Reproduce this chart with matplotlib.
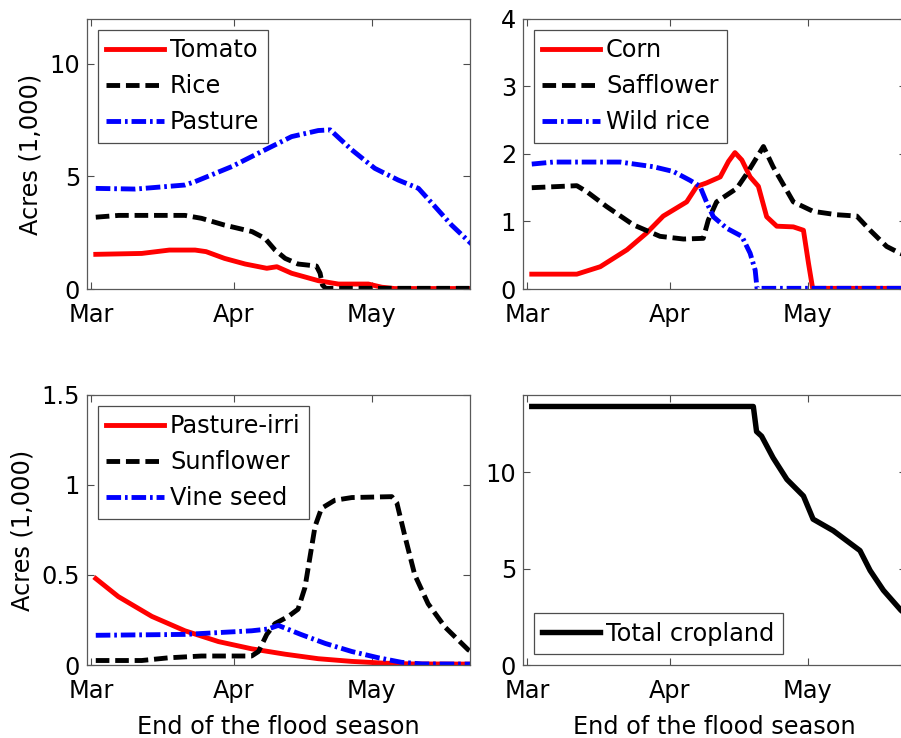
import matplotlib
matplotlib.use("Agg")
import matplotlib.pyplot as plt

# days counted from March 1 (Apr 1 = 31, May 1 = 61)
month_ticks = [0, 31, 61]
month_labels = ["Mar", "Apr", "May"]

# --- panel 1: tomato / rice / pasture ---
tomato_x = [1, 11, 17, 22.6, 25, 29, 33.5, 38.2, 40.4, 43.6, 49.4, 53.8, 60.3, 63.2, 66, 83]
tomato_y = [1.54, 1.58, 1.73, 1.73, 1.66, 1.36, 1.11, 0.92, 0.99, 0.70, 0.37, 0.22, 0.22, 0.08, 0.02, 0.02]

rice_x = [1, 6, 20.4, 24, 29, 35, 37.8, 40, 42.2, 45, 49, 49.8, 50.3, 51, 83]
rice_y = [3.19, 3.27, 3.27, 3.14, 2.84, 2.55, 2.25, 1.73, 1.36, 1.11, 1.02, 0.70, 0.18, 0.03, 0.03]

pasture_x = [1, 9.6, 20.4, 22.6, 30.6, 37.8, 43.6, 49.4, 52, 56.7, 61.7, 66.8, 71.2, 74.8, 78.4, 83]
pasture_y = [4.47, 4.44, 4.62, 4.77, 5.44, 6.18, 6.77, 7.04, 7.07, 6.18, 5.36, 4.84, 4.47, 3.66, 2.84, 1.95]

# --- panel 2: corn / safflower / wild rice ---
corn_x = [1, 10.8, 15.9, 21.7, 26, 29.6, 34.7, 36.9, 39, 42, 43.8, 45.2, 46.7, 48.5, 50.3,
          52.1, 54.3, 57.9, 60.1, 61.2, 62.1, 83]
corn_y = [0.22, 0.22, 0.33, 0.58, 0.83, 1.08, 1.29, 1.52, 1.57, 1.66, 1.89, 2.02, 1.91, 1.66, 1.52,
          1.07, 0.93, 0.92, 0.87, 0.38, 0.01, 0.01]

safflower_x = [1, 10.8, 13, 17.3, 23.1, 28.9, 34, 38.3, 39.4, 41.2, 45.6, 47.8, 51.4, 53.5,
               57.9, 62.2, 67.3, 71.7, 74.6, 78.2, 81.1, 83]
safflower_y = [1.50, 1.53, 1.44, 1.22, 0.95, 0.78, 0.74, 0.75, 1.02, 1.29, 1.49, 1.71, 2.11, 1.81,
               1.29, 1.15, 1.10, 1.08, 0.87, 0.63, 0.53, 0.48]

wildrice_x = [1, 5.7, 20.2, 27.5, 31.8, 35.4, 37.6, 39, 40.5, 43.4, 46.7, 48.5, 49.6, 50, 83]
wildrice_y = [1.85, 1.88, 1.88, 1.81, 1.74, 1.61, 1.52, 1.29, 1.07, 0.90, 0.78, 0.53, 0.28, 0.01, 0.01]

# --- panel 3: pasture-irri / sunflower / vine seed ---
irri_x = [1, 5.9, 13.2, 20.4, 27.7, 34.9, 42.2, 49.4, 56.7, 63.9, 70, 83]
irri_y = [0.48, 0.38, 0.27, 0.19, 0.13, 0.09, 0.06, 0.035, 0.02, 0.01, 0.006, 0.005]

sunflower_x = [1, 11, 16.8, 24, 34.9, 36.4, 38.2, 40, 42.9, 45, 46.5, 47.6, 48.7, 50.1, 53,
               56.7, 65.4, 66.5, 68.3, 70.4, 73.3, 77, 82, 83]
sunflower_y = [0.025, 0.025, 0.04, 0.05, 0.05, 0.075, 0.17, 0.23, 0.27, 0.31, 0.43, 0.60, 0.77,
               0.87, 0.915, 0.93, 0.935, 0.90, 0.71, 0.50, 0.34, 0.21, 0.085, 0.07]

vine_x = [1, 20.4, 27.7, 34.9, 38.5, 40.7, 45.6, 50.9, 56.7, 62.5, 67.5, 72, 83]
vine_y = [0.165, 0.17, 0.18, 0.19, 0.20, 0.22, 0.17, 0.12, 0.075, 0.04, 0.015, 0.006, 0.005]

# --- panel 4: total cropland ---
total_x = [1, 49.2, 49.9, 51, 53.5, 56.5, 60.1, 62.2, 66.6, 72.4, 74.6, 77.5, 81.3, 83]
total_y = [13.4, 13.4, 12.1, 11.86, 10.74, 9.62, 8.76, 7.56, 6.96, 5.93, 4.9, 3.87, 2.84, 2.5]

FS = 17.3
LW = 3.5
DASH = (2.8, 1.2)
DASHDOT = (3.0, 0.8, 0.55, 0.8)

plt.rcParams["font.family"] = "DejaVu Sans"

fig = plt.figure(figsize=(9.01, 7.38), dpi=100)

# axes boxes in figure fractions; the right column runs a little past the edge
left_col, right_col, width = 0.0966, 0.5805, 0.425
top_row, bot_row, height = 0.6084, 0.0989, 0.366

ax1 = fig.add_axes([left_col, top_row, width, height])
ax2 = fig.add_axes([right_col, top_row, width, height])
ax3 = fig.add_axes([left_col, bot_row, width, height])
ax4 = fig.add_axes([right_col, bot_row, width, height])


def style_axes(ax, ylim, yticks, xlabel=None, ylabel=None):
    ax.set_xlim(-0.9, 82.4)
    ax.set_ylim(*ylim)
    ax.set_xticks(month_ticks)
    ax.set_xticklabels(month_labels)
    ax.set_yticks(yticks)
    ax.tick_params(direction="in", length=5, width=0.8, top=True, right=True,
                   labelsize=FS, color="0.3")
    ax.tick_params(axis="x", pad=10)
    ax.tick_params(axis="y", pad=5)
    for s in ax.spines.values():
        s.set_color("0.35")
        s.set_linewidth(0.9)
    if xlabel:
        ax.set_xlabel(xlabel, fontsize=FS, labelpad=9)
    if ylabel:
        ax.set_ylabel(ylabel, fontsize=FS, labelpad=5)


def add_legend(ax, loc):
    leg = ax.legend(loc=loc, fontsize=FS, handlelength=2.4, handletextpad=0.25,
                    labelspacing=0.5, borderaxespad=0.45, borderpad=0.35,
                    fancybox=False, framealpha=1)
    leg.get_frame().set_edgecolor("0.3")
    leg.get_frame().set_linewidth(0.9)


ax1.plot(tomato_x, tomato_y, color="red", lw=LW, label="Tomato")
ax1.plot(rice_x, rice_y, color="black", lw=LW, dashes=DASH, label="Rice")
ax1.plot(pasture_x, pasture_y, color="blue", lw=LW, dashes=DASHDOT, label="Pasture")
style_axes(ax1, (0, 12), [0, 5, 10], ylabel="Acres (1,000)")
add_legend(ax1, "upper left")

ax2.plot(corn_x, corn_y, color="red", lw=LW, label="Corn")
ax2.plot(safflower_x, safflower_y, color="black", lw=LW, dashes=DASH, label="Safflower")
ax2.plot(wildrice_x, wildrice_y, color="blue", lw=LW, dashes=DASHDOT, label="Wild rice")
style_axes(ax2, (0, 4), [0, 1, 2, 3, 4])
add_legend(ax2, "upper left")

ax3.plot(irri_x, irri_y, color="red", lw=LW, label="Pasture-irri")
ax3.plot(sunflower_x, sunflower_y, color="black", lw=LW, dashes=DASH, label="Sunflower")
ax3.plot(vine_x, vine_y, color="blue", lw=LW, dashes=DASHDOT, label="Vine seed")
style_axes(ax3, (0, 1.5), [0, 0.5, 1, 1.5], xlabel="End of the flood season",
           ylabel="Acres (1,000)")
ax3.set_yticklabels(["0", "0.5", "1", "1.5"])
add_legend(ax3, "upper left")

ax4.plot(total_x, total_y, color="black", lw=LW + 0.4, label="Total cropland")
style_axes(ax4, (0, 14), [0, 5, 10], xlabel="End of the flood season")
add_legend(ax4, "lower left")

fig.savefig("out.png", dpi=100)
